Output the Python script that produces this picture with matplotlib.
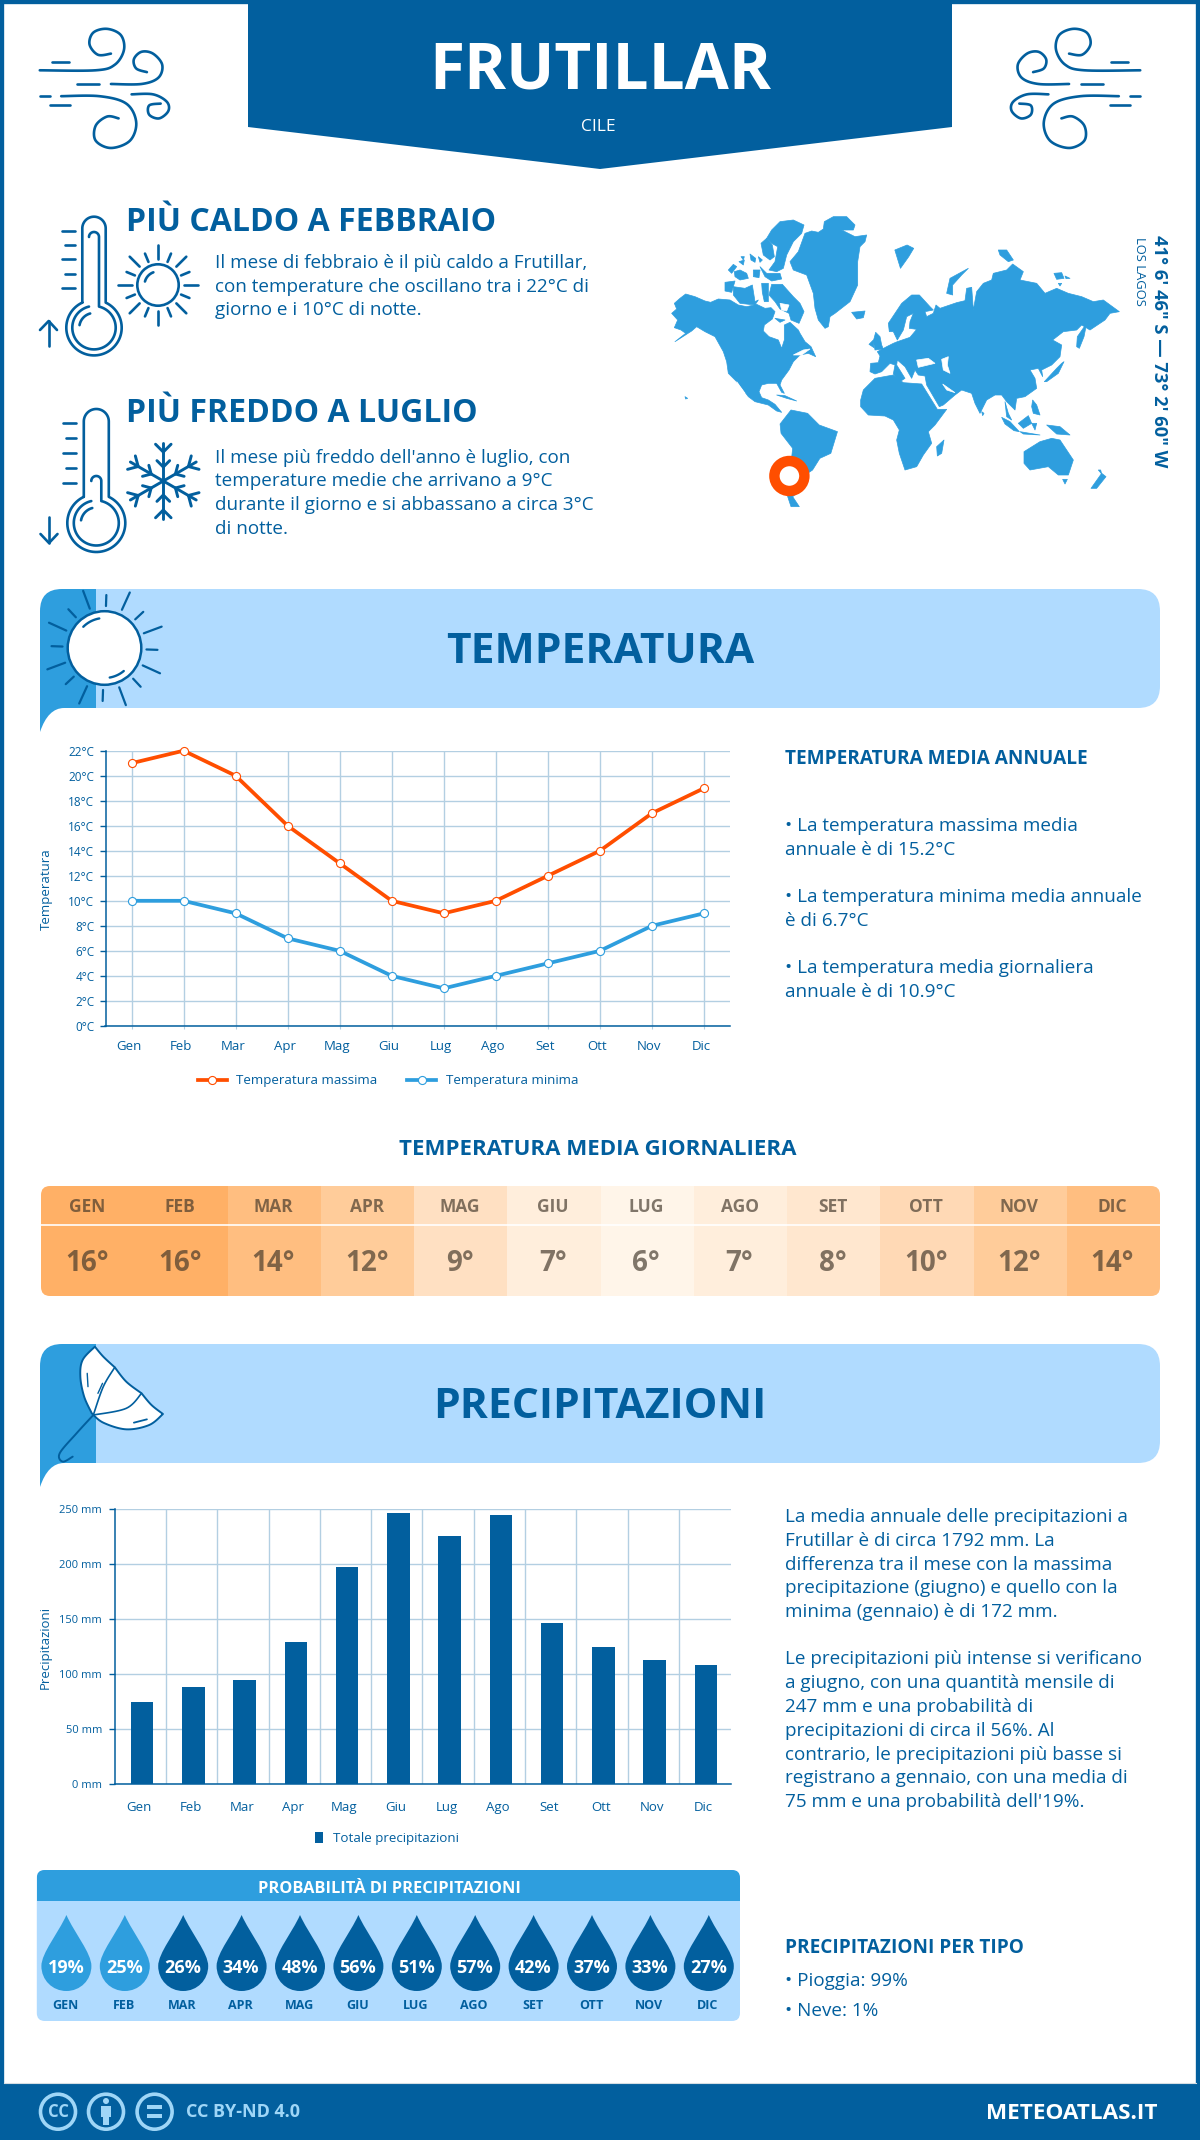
import numpy as np
import matplotlib
matplotlib.use("Agg")
import matplotlib.pyplot as plt
from matplotlib.colors import LinearSegmentedColormap, Normalize
from matplotlib.patches import Circle, FancyBboxPatch, PathPatch, Polygon, Rectangle
from matplotlib.path import Path
from matplotlib.transforms import ScaledTranslation

plt.rcParams['font.family'] = ['Open Sans', 'DejaVu Sans']

MONTHS = ['Gen', 'Feb', 'Mar', 'Apr', 'Mag', 'Giu', 'Lug', 'Ago', 'Set', 'Ott', 'Nov', 'Dic']
TEMP_MAX = [21, 22, 20, 16, 13, 10, 9, 10, 12, 14, 17, 19]
TEMP_MIN = [10, 10, 9, 7, 6, 4, 3, 4, 5, 6, 8, 9]
TEMP_DAILY = [16, 16, 14, 12, 9, 7, 6, 7, 8, 10, 12, 14]
PRECIP = [75, 88.5, 95, 129, 198, 247, 226, 245, 147, 125, 113, 108.5]
PRECIP_PROB = [19, 25, 26, 34, 48, 56, 51, 57, 42, 37, 33, 27]

BLUE = '#025f9e'
MID = '#2e9ede'
PALE = '#b0dbff'
RED = '#ff4e00'
GRID = '#b3cfe2'
W, H = 1200, 2140

fig = plt.figure(figsize=(W / 100, H / 100), dpi=100, facecolor='white')
page = fig.add_axes([0, 0, 1, 1], zorder=0)
page.set_xlim(0, W)
page.set_ylim(H, 0)
page.axis('off')


def chart_axes(left, right, top, bottom):
    return fig.add_axes([left / W, 1 - bottom / H, (right - left) / W, (bottom - top) / H],
                        zorder=2, facecolor='none')


def smooth(pts, n=12):
    # catmull-rom through hand read points
    p = np.array(pts, dtype=float)
    p = np.vstack([p[0], p, p[-1]])
    out = []
    for i in range(1, len(p) - 2):
        for t in np.linspace(0, 1, n, endpoint=False):
            a = 2 * p[i] + (p[i + 1] - p[i - 1]) * t
            b = (2 * p[i - 1] - 5 * p[i] + 4 * p[i + 1] - p[i + 2]) * t ** 2
            c = (-p[i - 1] + 3 * p[i] - 3 * p[i + 1] + p[i + 2]) * t ** 3
            out.append(0.5 * (a + b + c))
    out.append(p[-2])
    return np.array(out)


def stroke(xy, color=BLUE, lw=1.9, z=3):
    xy = np.asarray(xy)
    page.plot(xy[:, 0], xy[:, 1], color=color, lw=lw, solid_capstyle='round',
              solid_joinstyle='round', zorder=z)


def arc(cx, cy, r, a0, a1, n=40):
    a = np.radians(np.linspace(a0, a1, n))
    return np.column_stack([cx + r * np.cos(a), cy - r * np.sin(a)])


def text(x, y, s, size, weight='normal', color=BLUE, ha='left', va='baseline', **kw):
    page.text(x, y, s, fontsize=size, fontweight=weight, color=color, ha=ha, va=va, zorder=5, **kw)


# frame and footer
page.add_patch(Rectangle((0, 0), W, H, fc='none', ec=BLUE, lw=6, zorder=1))
page.add_patch(Rectangle((0, 2083), W, 57, fc=BLUE, ec='none', zorder=2))
page.plot([4, 1196], [2082.5, 2082.5], color='#d5dde3', lw=0.8, zorder=2)
page.add_patch(Polygon([(248, 0), (952, 0), (952, 127), (600, 169), (248, 127)], fc=BLUE, ec='none', zorder=2))
text(600, 88.5, 'FRUTILLAR', 46, 'bold', 'white', ha='center')
text(598, 131, 'CILE', 12.5, 'normal', 'white', ha='center')


# wind icons, right one is the left one mirrored
def wind(fx):
    def conv(pts):
        return [(fx(x / 1.307), y / 2.703) for x, y in pts]
    curves = [
        [(52, 190), (125, 190), (150, 175), (162, 135), (158, 95), (140, 78), (122, 88), (117, 120), (128, 148), (145, 145)],
        [(145, 227), (185, 227), (207, 210), (212, 175), (200, 145), (185, 140), (175, 160), (178, 185), (192, 195)],
        [(80, 260), (130, 260), (165, 280), (178, 330), (170, 380), (145, 400), (125, 380), (125, 340), (140, 315), (155, 320)],
        [(172, 255), (200, 255), (218, 275), (220, 300), (208, 320), (195, 310), (195, 285), (210, 280)],
    ]
    for c in curves:
        stroke(smooth(conv(c)))
    for d in [[(68, 167), (90, 167)], [(100, 227), (130, 227)], [(52, 260), (65, 260)], [(65, 283), (92, 283)]]:
        stroke(conv(d))


wind(lambda x: x)
wind(lambda x: 1180 - x)


def thermometer(cx, top, half, bulb_y, R, inner_half, inner_top, inner_R, tick_x0, tick_ys):
    a = np.degrees(np.arcsin(half / R))
    outer = np.vstack([[(cx - half, bulb_y - R * np.cos(np.radians(a)))],
                       arc(cx, top + half, half, 180, 0),
                       arc(cx, bulb_y, R, 90 - a, -270 + a, 70)])
    stroke(outer)
    a = np.degrees(np.arcsin(inner_half / inner_R))
    inner = np.vstack([arc(cx, inner_top + inner_half, inner_half, 180, 0),
                       arc(cx, bulb_y, inner_R, 90 - a, -270 + a, 70)])
    stroke(inner)
    stroke(arc(cx, bulb_y, inner_R - 7, 105, 170, 12))
    for i, y in enumerate(tick_ys):
        stroke([(tick_x0 + (3 if i % 2 else 0), y), (tick_x0 + 13, y)])


thermometer(94, 216.7, 11.7, 327.7, 27.7, 5, 232, 21.7, 62, [231, 245, 259, 274, 288])
thermometer(96.3, 409, 12.5, 523, 29, 5, 476, 22.5, 63, [423, 438, 453, 468, 483])
stroke([(48.7, 346), (48.7, 321)])
stroke([(40, 330), (48.7, 321), (57, 330)])
stroke([(49, 517), (49, 543)])
stroke([(40.5, 534), (49, 543), (57.5, 534)])

# small sun
page.add_patch(Circle((158, 285), 20.7, fc='none', ec=BLUE, lw=1.9, zorder=3))
stroke(arc(158, 285, 13.5, 110, 165, 10))
for k in range(16):
    ang = np.radians(k * 22.5)
    r0, r1 = (26, 40) if k % 2 == 0 else (25, 34)
    stroke([(158 + r0 * np.cos(ang), 285 - r0 * np.sin(ang)), (158 + r1 * np.cos(ang), 285 - r1 * np.sin(ang))])

# snowflake
for k in range(6):
    ang = np.radians(90 + k * 60)
    ux, uy = np.cos(ang), -np.sin(ang)
    sx, sy = 163.3, 481
    stroke([(sx, sy), (sx + 38 * ux, sy + 38 * uy)], lw=2.1)
    for dist, blen in [(14, 9), (29, 11)]:
        for side in (-1, 1):
            b = ang + side * np.radians(45)
            stroke([(sx + dist * ux, sy + dist * uy),
                    (sx + dist * ux + blen * np.cos(b), sy + dist * uy - blen * np.sin(b))], lw=2.1)

text(125.5, 231, 'PIÙ CALDO A FEBBRAIO', 23, 'bold')
text(125.5, 421.7, 'PIÙ FREDDO A LUGLIO', 23, 'bold')
for y, s in zip([268, 292, 315], ['Il mese di febbraio è il più caldo a Frutillar,',
                                  'con temperature che oscillano tra i 22°C di',
                                  'giorno e i 10°C di notte.']):
    text(215, y, s, 13.6)
for y, s in zip([463, 486, 510, 534], ["Il mese più freddo dell'anno è luglio, con",
                                       'temperature medie che arrivano a 9°C',
                                       'durante il giorno e si abbassano a circa 3°C',
                                       'di notte.']):
    text(215, y, s, 13.6)

LAND_WEST = [
    [(20, 325), (35, 312), (28, 295), (45, 280), (62, 267), (90, 275), (120, 288), (137, 292), (160, 282), (195, 285), (220, 300), (245, 305), (275, 298), (300, 310), (318, 308), (330, 320), (322, 342), (298, 360), (295, 378), (312, 395), (340, 405), (350, 430), (358, 405), (358, 360), (375, 352), (400, 375), (405, 385), (420, 410), (438, 425), (452, 455), (430, 445), (405, 450), (385, 470), (372, 495), (350, 525), (345, 540), (358, 565), (350, 562), (335, 535), (310, 535), (290, 540), (282, 560), (290, 578), (310, 585), (330, 598), (350, 622), (335, 618), (310, 600), (270, 590), (250, 575), (235, 555), (215, 530), (190, 505), (185, 470), (175, 440), (150, 395), (120, 380), (95, 365), (80, 378), (30, 410), (62, 385), (48, 375), (28, 368), (38, 345)],
    [(205, 245), (240, 250), (262, 240), (270, 290), (280, 285), (270, 300), (225, 295), (205, 270)],
    [(180, 232), (210, 228), (200, 262), (180, 258)],
    [(290, 235), (310, 235), (310, 290), (298, 290), (292, 262)],
    [(312, 270), (320, 238), (352, 238), (385, 275), (405, 295), (417, 320), (402, 355), (378, 345), (372, 325), (345, 312), (330, 290)],
    [(330, 340), (360, 345), (345, 352)],
    [(208, 200), (225, 195), (245, 205), (250, 220), (225, 225), (210, 215)],
    [(190, 195), (205, 178), (215, 185), (200, 205)],
    [(265, 195), (285, 195), (282, 218), (265, 215)],
    [(285, 185), (305, 205), (345, 205), (350, 222), (320, 228), (300, 215)],
    [(255, 147), (272, 160), (270, 172), (258, 165)],
    [(222, 170), (238, 165), (235, 180)],
    [(228, 155), (238, 155), (235, 165)],
    [(280, 155), (292, 165), (285, 172)],
    [(288, 115), (305, 100), (322, 120), (328, 155), (315, 165), (295, 150)],
    [(305, 100), (320, 75), (345, 50), (385, 45), (417, 60), (410, 85), (385, 110), (365, 150), (355, 190), (335, 200), (312, 195), (330, 170), (338, 125), (320, 115)],
    [(420, 85), (440, 78), (460, 82), (475, 72), (478, 50), (505, 35), (545, 35), (570, 60), (565, 75), (530, 75), (570, 95), (605, 90), (600, 110), (585, 125), (578, 170), (578, 240), (555, 290), (510, 325), (495, 335), (490, 365), (480, 370), (460, 345), (450, 310), (445, 265), (425, 210), (385, 195), (375, 170), (400, 140)],
    [(560, 322), (580, 320), (600, 318), (595, 338), (575, 342)],
    [(625, 408), (632, 382), (645, 395), (650, 420), (655, 432), (630, 435)],
    [(612, 418), (625, 405), (627, 428)],
    [(335, 570), (360, 572), (395, 588), (365, 580)],
    [(60, 575), (68, 580), (62, 582)],
]
WATER_WEST = [
    [(385, 450), (415, 435), (435, 432), (410, 450)],
    [(215, 530), (240, 565), (222, 545)],
    [(345, 295), (372, 300), (365, 318), (350, 315)],
]
LAND_EAST = [
    [(30, 365), (32, 340), (55, 338), (60, 318), (52, 305), (80, 290), (100, 280), (112, 275), (150, 262), (170, 238), (148, 235), (150, 215), (160, 190), (140, 200), (130, 240), (112, 270), (100, 245), (88, 245), (85, 220), (105, 190), (125, 160), (155, 135), (178, 135), (210, 170), (220, 180), (195, 185), (200, 200), (220, 190), (228, 165), (240, 175), (290, 158), (315, 152), (320, 115), (335, 112), (340, 180), (350, 125), (370, 100), (395, 90), (400, 70), (440, 60), (458, 42), (490, 65), (480, 90), (530, 100), (555, 130), (590, 115), (625, 130), (665, 140), (700, 155), (730, 150), (778, 185), (750, 190), (735, 210), (690, 240), (665, 225), (650, 240), (610, 245), (578, 270), (605, 285), (600, 320), (575, 345), (545, 360), (548, 380), (535, 355), (510, 360), (525, 385), (530, 415), (495, 440), (470, 445), (465, 480), (440, 455), (425, 435), (405, 435), (380, 450), (360, 490), (345, 460), (335, 430), (305, 420), (285, 435), (250, 465), (238, 470), (200, 405), (195, 378), (175, 375), (165, 360), (155, 385), (135, 350), (112, 330), (110, 345), (135, 385), (120, 395), (100, 372), (105, 345), (90, 340), (65, 365), (45, 372)],
    [(2, 450), (10, 420), (45, 385), (100, 375), (130, 398), (185, 402), (232, 478), (260, 478), (225, 525), (205, 545), (215, 580), (190, 615), (170, 650), (135, 660), (118, 610), (110, 570), (118, 540), (100, 510), (75, 498), (25, 495), (2, 470)],
    [(260, 130), (270, 85), (325, 55), (305, 75), (278, 105), (278, 135)],
    [(415, 0), (440, 0), (460, 30), (445, 35), (420, 15)],
    [(582, 70), (605, 68), (612, 85), (590, 88)],
    [(615, 78), (630, 85), (618, 86)],
    [(595, 100), (605, 100), (600, 108)],
    [(650, 290), (652, 260), (680, 220), (672, 260), (658, 295)],
    [(553, 395), (590, 355), (605, 340), (612, 335), (595, 370), (560, 395)],
    [(365, 485), (372, 490), (368, 497)],
    [(425, 502), (450, 515), (478, 545), (462, 542), (435, 522)],
    [(480, 545), (540, 555), (490, 552)],
    [(475, 520), (505, 497), (515, 520), (490, 535)],
    [(515, 520), (530, 520), (525, 540)],
    [(518, 450), (530, 465), (540, 495), (520, 490), (515, 470)],
    [(435, 455), (445, 490), (455, 510), (440, 500)],
    [(560, 525), (600, 530), (630, 555), (590, 552)],
    [(492, 605), (540, 575), (575, 565), (600, 570), (640, 630), (625, 675), (595, 675), (565, 650), (510, 660), (492, 640)],
    [(693, 715), (725, 670), (738, 680), (710, 715)],
    [(715, 660), (722, 660), (725, 672)],
    [(608, 688), (622, 688), (615, 702)],
    [(230, 590), (252, 570), (245, 610), (232, 618)],
]
WATER_EAST = [
    [(170, 330), (205, 325), (225, 340), (175, 352)],
    [(245, 328), (265, 320), (262, 345), (270, 370), (250, 360)],
    [(248, 402), (285, 428), (260, 420)],
]
LAND_SOUTH = [
    [(362, 672), (395, 630), (445, 640), (480, 675), (535, 695), (515, 760), (482, 775), (460, 810), (445, 820), (425, 870), (400, 890), (420, 920), (395, 920), (385, 890), (395, 790), (400, 745), (365, 700)],
    [(708, 150), (745, 135), (765, 145), (750, 170), (725, 205)],
]


def west_xy(pts):
    return [(665 + x / 3, 205 + y / 3) for x, y in pts]


def east_xy(pts):
    return [(860 + x / 3, 250 + y / 3) for x, y in pts]


def south_xy(pts):
    return [(660 + x / 3.015, 200 + y / 3) for x, y in pts]


for polys, conv in [(LAND_WEST, west_xy), (LAND_EAST, east_xy), (LAND_SOUTH, south_xy)]:
    for poly in polys:
        page.add_patch(Polygon(conv(poly), fc=MID, ec=MID, lw=0.5, joinstyle='round', zorder=2))
for polys, conv in [(WATER_WEST, west_xy), (WATER_EAST, east_xy)]:
    for poly in polys:
        page.add_patch(Polygon(conv(poly), fc='white', ec='white', lw=0.5, zorder=3))
page.add_patch(Circle((789.4, 476), 15, fc='white', ec=RED, lw=7.5, zorder=4))
text(1159, 351, '41° 6\' 46" S — 73° 2\' 60" W', 13.2, 'bold', rotation=-90, ha='center', va='center')
text(1139, 271, 'LOS LAGOS', 9.4, 'normal', rotation=-90, ha='center', va='center')


def banner(top, bottom):
    page.add_patch(FancyBboxPatch((60, top), 1100, bottom - top, boxstyle='round,pad=0,rounding_size=22',
                                  fc=PALE, ec='none', zorder=1.5))
    verts = [(40, bottom + 24), (40, top + 22), (40, top), (62, top), (96, top), (96, bottom), (64, bottom),
             (48, bottom), (40, bottom + 24)]
    codes = [Path.MOVETO, Path.LINETO, Path.CURVE3, Path.CURVE3, Path.LINETO, Path.LINETO, Path.LINETO,
             Path.CURVE3, Path.CURVE3]
    page.add_patch(PathPatch(Path(verts, codes), fc=MID, ec='none', zorder=2))


banner(589, 708)
banner(1344, 1463)
text(600, 662.8, 'TEMPERATURA', 30.6, 'bold', ha='center')
text(600, 1418, 'PRECIPITAZIONI', 30.6, 'bold', ha='center')

# big sun on the banner
page.add_patch(Circle((104.5, 648), 36.8, fc='white', ec=BLUE, lw=1.8, zorder=3))
stroke(arc(104.5, 648, 30, 100, 135, 10), lw=1.7)
stroke(arc(104.5, 648, 30, 280, 310, 10), lw=1.7)
for k in range(16):
    ang = np.radians(k * 22.5 - 2)
    r1 = 53 if k % 2 == 0 else 61
    stroke([(104.5 + 42 * np.cos(ang), 648 - 42 * np.sin(ang)),
            (104.5 + r1 * np.cos(ang), 648 - r1 * np.sin(ang))], lw=1.6)


# umbrella on the banner
def umb(pts):
    return [(x / 1.307, 1120 + y / 3) for x, y in pts]


canopy_parts = [
    [(124, 680), (108, 720), (105, 770), (110, 830), (120, 880)],
    [(120, 880), (135, 908), (165, 928), (195, 915), (213, 882)],
    [(213, 882), (198, 855), (185, 820)],
    [(185, 820), (165, 785), (150, 742)],
    [(150, 742), (135, 710), (124, 680)],
]
canopy = np.vstack([smooth(umb(part)) for part in canopy_parts])
page.add_patch(Polygon(canopy, fc='white', ec=BLUE, lw=1.4, joinstyle='round', zorder=3))
stroke(smooth(umb([(122, 885), (100, 940), (78, 1000), (82, 1025), (95, 1010)])), lw=1.4)
stroke(smooth(umb([(150, 742), (135, 800), (122, 885)])), lw=1.2)
stroke(smooth(umb([(185, 820), (165, 865), (122, 885)])), lw=1.2)
stroke(umb([(175, 908), (192, 898)]), lw=1.3)
stroke(umb([(114, 760), (115, 800)]), lw=1.0)
stroke(umb([(128, 820), (134, 790)]), lw=1.0)

# temperature chart
ax = chart_axes(105.5, 730, 750.7, 1025.9)
x = np.arange(12)
ax.plot(x, TEMP_MAX, color=RED, lw=2.7, marker='o', ms=5.8, mfc='white', mec=RED, mew=0.8,
        label='Temperatura massima', clip_on=False, zorder=4)
ax.plot(x, TEMP_MIN, color=MID, lw=2.7, marker='o', ms=5.8, mfc='white', mec=MID, mew=0.8,
        label='Temperatura minima', clip_on=False, zorder=4)
ax.set_xlim(-0.5, 11.5)
ax.set_ylim(0, 22)
ax.set_yticks(range(0, 23, 2), [f'{v}°C' for v in range(0, 23, 2)])
ax.set_xticks(x, MONTHS)
ax.grid(True, color=GRID, lw=1)
ax.set_axisbelow(True)
ax.tick_params(axis='y', labelsize=8.5, colors=BLUE, length=4.5, width=1, pad=3.5)
ax.tick_params(axis='x', labelsize=9.5, labelcolor=BLUE, color=GRID, length=2.5, pad=8)
for s in ('top', 'right'):
    ax.spines[s].set_visible(False)
for s in ('left', 'bottom'):
    ax.spines[s].set_color(BLUE)
    ax.spines[s].set_linewidth(1.1)
for lbl in ax.get_xticklabels():
    lbl.set_transform(lbl.get_transform() + ScaledTranslation(-2 / 72, 0, fig.dpi_scale_trans))
ax.legend(loc='center', bbox_to_anchor=(388 / W, 1 - 1080.7 / H), bbox_transform=fig.transFigure, ncol=2,
          frameon=False, fontsize=9.6, labelcolor=BLUE, handlelength=2.2, handletextpad=0.7, columnspacing=2.2)
text(46, 889, 'Temperatura', 9.5, rotation=90, ha='center', va='center')

text(785, 764, 'TEMPERATURA MEDIA ANNUALE', 13.7, 'bold')
for y, s in zip([831, 855, 902, 926, 973, 997], ['• La temperatura massima media', 'annuale è di 15.2°C',
                                                 '• La temperatura minima media annuale', 'è di 6.7°C',
                                                 '• La temperatura media giornaliera', 'annuale è di 10.9°C']):
    text(785, y, s, 13.55)

# daily temperature table
text(598, 1155, 'TEMPERATURA MEDIA GIORNALIERA', 16, 'bold', ha='center')
heat = chart_axes(41.3, 1160, 1185.7, 1295.7)
temp_cmap = LinearSegmentedColormap.from_list('warm', ['#fff5e9', '#ffb066'])
mesh = heat.pcolormesh(np.arange(13), [0, 1], [TEMP_DAILY], cmap=temp_cmap, norm=Normalize(6, 16), antialiased=False)
heat.set_xlim(0, 12)
heat.set_ylim(1, 0)
heat.axis('off')
clip = FancyBboxPatch((41.3, 1185.7), 1118.7, 110, boxstyle='round,pad=0,rounding_size=9',
                      transform=page.transData, fc='none', ec='none')
mesh.set_clip_path(clip)
heat.axhline(0.358, color='white', lw=1.2)
for i, (m, t) in enumerate(zip(MONTHS, TEMP_DAILY)):
    heat.text(i + 0.49, 0.236, m.upper(), fontsize=12.5, fontweight='bold', color='#3c3226', alpha=0.65,
              ha='center', va='baseline')
    heat.text(i + 0.49, 0.773, f'{t}°', fontsize=20, fontweight='bold', color='#3c3226', alpha=0.65,
              ha='center', va='baseline')

# precipitation chart
ax2 = chart_axes(115.4, 731, 1509.3, 1784.3)
ax2.bar(x, PRECIP, width=0.44, color=BLUE, label='Totale precipitazioni', zorder=3)
ax2.set_xlim(-0.519, 11.488)
ax2.set_ylim(0, 250)
ax2.set_yticks(range(0, 251, 50), [f'{v} mm' for v in range(0, 251, 50)])
ax2.set_xticks(x, MONTHS)
ax2.set_xticks(x[:-1] + 0.47, minor=True)
ax2.grid(True, axis='y', color=GRID, lw=1)
ax2.grid(True, axis='x', which='minor', color=GRID, lw=1)
ax2.set_axisbelow(True)
ax2.tick_params(axis='y', labelsize=8, colors=BLUE, length=4.5, width=1, pad=5)
ax2.tick_params(axis='x', labelsize=9.5, labelcolor=BLUE, length=0, pad=12)
ax2.tick_params(axis='x', which='minor', length=0)
for s in ('top', 'right'):
    ax2.spines[s].set_visible(False)
for s in ('left', 'bottom'):
    ax2.spines[s].set_color(BLUE)
    ax2.spines[s].set_linewidth(1.1)
for lbl in ax2.get_xticklabels():
    lbl.set_transform(lbl.get_transform() + ScaledTranslation(-2 / 72, 0, fig.dpi_scale_trans))
ax2.legend(loc='center', bbox_to_anchor=(387 / W, 1 - 1838.7 / H), bbox_transform=fig.transFigure,
           frameon=False, fontsize=9.6, labelcolor=BLUE, handlelength=0.6, handleheight=0.8, handletextpad=0.7)
text(45, 1647.7, 'Precipitazioni', 9.5, rotation=90, ha='center', va='center')

PRECIP_TEXT = ['La media annuale delle precipitazioni a', 'Frutillar è di circa 1792 mm. La',
               'differenza tra il mese con la massima', 'precipitazione (giugno) e quello con la',
               'minima (gennaio) è di 172 mm.', '',
               'Le precipitazioni più intense si verificano', 'a giugno, con una quantità mensile di',
               '247 mm e una probabilità di', 'precipitazioni di circa il 56%. Al',
               'contrario, le precipitazioni più basse si', 'registrano a gennaio, con una media di',
               "75 mm e una probabilità dell'19%."]
for i, s in enumerate(PRECIP_TEXT):
    text(785, 1522 + i * 23.75, s, 13.55)

text(785, 1953, 'PRECIPITAZIONI PER TIPO', 13.7, 'bold')
text(785, 1986.5, '• Pioggia: 99%', 13.55)
text(785, 2015.5, '• Neve: 1%', 13.55)

# rain probability panel
page.add_patch(FancyBboxPatch((36.8, 1870), 703.2, 151, boxstyle='round,pad=0,rounding_size=8',
                              fc=PALE, ec='none', zorder=2))
head_clip = FancyBboxPatch((36.8, 1870), 703.2, 151, boxstyle='round,pad=0,rounding_size=8',
                           transform=page.transData, fc='none', ec='none')
head = Rectangle((36.8, 1870), 703.2, 31, fc=MID, ec='none', zorder=2.5)
page.add_patch(head)
head.set_clip_path(head_clip)
text(389, 1893, 'PROBABILITÀ DI PRECIPITAZIONI', 11.8, 'bold', 'white', ha='center')

drop = [(0, 0), (8, 18), (25, 38), (25, 51), (25, 65), (14, 76), (0, 76), (-14, 76), (-25, 65), (-25, 51),
        (-25, 38), (-8, 18), (0, 0)]
drop_codes = [Path.MOVETO] + [Path.CURVE4] * 12
for i, (m, p) in enumerate(zip(MONTHS, PRECIP_PROB)):
    cx = 66.4 + i * 58.4
    verts = [(cx + dx, 1915 + dy) for dx, dy in drop]
    page.add_patch(PathPatch(Path(verts, drop_codes), fc=MID if p < 26 else BLUE, ec='none', zorder=3))
    text(cx - 0.5, 1972.7, f'{p}%', 13, 'bold', 'white', ha='center')
    text(cx - 1, 2009, m.upper(), 9, 'bold', ha='center')

# footer
CC = '#9fd6f7'
for cx in (58, 106, 154.6):
    page.add_patch(Circle((cx, 2111.7), 17.5, fc='none', ec=CC, lw=2.6, zorder=4))
text(58, 2117, 'CC', 12, 'bold', CC, ha='center')
page.add_patch(Circle((106, 2101), 3, fc=CC, ec='none', zorder=4))
page.add_patch(Rectangle((101, 2106), 10, 11, fc=CC, ec='none', zorder=4))
page.add_patch(Rectangle((103, 2117), 6, 8, fc=CC, ec='none', zorder=4))
page.add_patch(Rectangle((147, 2105), 15, 3.5, fc=CC, ec='none', zorder=4))
page.add_patch(Rectangle((147, 2114), 15, 3.5, fc=CC, ec='none', zorder=4))
text(185.6, 2117.3, 'CC BY-ND 4.0', 13, 'bold', CC)
text(1158, 2119.3, 'METEOATLAS.IT', 16.2, 'bold', 'white', ha='right')

fig.savefig('out.png', dpi=100, facecolor='white')
